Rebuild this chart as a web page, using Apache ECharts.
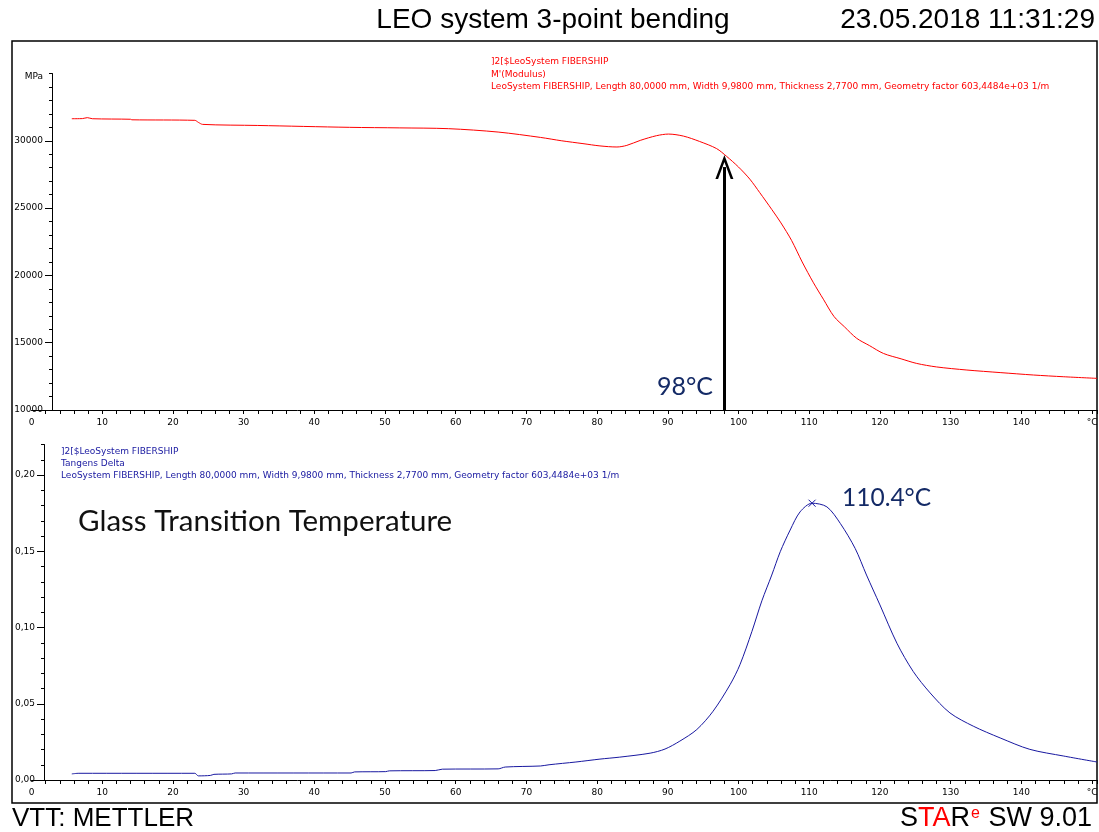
<!DOCTYPE html>
<html>
<head>
<meta charset="utf-8">
<script src="https://cdn.jsdelivr.net/npm/echarts@6/dist/echarts.min.js"></script>
<style>
  html, body { margin: 0; padding: 0; background: #fff; }
  #main { width: 1099px; height: 832px; }
</style>
</head>
<body>
<div id="main"></div>
<script>
// values
var modTemps = [5.7, 7.2, 7.9, 8.6, 14.0, 14.2, 23.1, 23.6, 24.2, 32, 45, 52, 59, 66, 72, 75, 78, 80.4, 82.8, 84.2, 86.1, 88.4, 90.1, 92.2, 94.5, 96.9, 98.3, 100, 101.6, 103, 104.7, 106, 107.5, 109, 110.6, 112, 113.5, 115, 116.7, 118.5, 120.5, 123, 125.2, 128, 132.3, 137, 141.7, 146, 150.7];
var modulus = [31640, 31650, 31720, 31640, 31600, 31560, 31520, 31370, 31220, 31140, 31000, 30960, 30900, 30650, 30250, 30000, 29790, 29620, 29540, 29660, 30030, 30380, 30500, 30350, 29950, 29420, 28850, 28050, 27150, 26150, 24900, 23900, 22600, 21000, 19450, 18230, 16950, 16170, 15330, 14790, 14200, 13800, 13460, 13200, 12970, 12780, 12600, 12470, 12350];

var tanTemps = [5.7, 6.7, 23.1, 23.6, 25.3, 25.8, 28.3, 28.8, 45.2, 45.7, 50.1, 50.6, 57.1, 58.1, 66, 67, 72, 73.2, 77, 80.4, 83.2, 87.5, 89.6, 91.7, 94.1, 96.4, 98.8, 100.2, 101.9, 103.3, 104.7, 105.9, 107.3, 108.7, 110.4, 112.5, 114.4, 116.5, 118.1, 120, 122.4, 124.7, 127.1, 129.9, 133.2, 137, 141.2, 146, 150.7];
var tanDelta = [0.0040, 0.0044, 0.0044, 0.0027, 0.0030, 0.0037, 0.0040, 0.0046, 0.0046, 0.0053, 0.0055, 0.0060, 0.0062, 0.0071, 0.0073, 0.0085, 0.0092, 0.0100, 0.0118, 0.0137, 0.0150, 0.0176, 0.0203, 0.0255, 0.0331, 0.0451, 0.0625, 0.0756, 0.0975, 0.1175, 0.1344, 0.1497, 0.1639, 0.1758, 0.1815, 0.1791, 0.1682, 0.1518, 0.1344, 0.1148, 0.0897, 0.0712, 0.0571, 0.0440, 0.0353, 0.0276, 0.0201, 0.0157, 0.0118];

var xLabelValues = [0, 10, 20, 30, 40, 50, 60, 70, 80, 90, 100, 110, 120, 130, 140, 150];
var modLabelValues = [10000, 15000, 20000, 25000, 30000];
var tanLabelValues = [0, 0.05, 0.10, 0.15, 0.20];

var onsetTemp = 98;        // arrow in the modulus plot
var onsetModulus = 28050;
var peakTemp = 110.4;      // tan delta peak
var peakTan = 0.1815;

var X_MAX = 150.7;

function steps(from, to, step) {
  var out = [];
  for (var v = from; v <= to + step / 1000; v += step) out.push(Math.round(v * 1000) / 1000);
  return out;
}

function pairs(xs, ys) {
  return xs.map(function (x, i) { return [x, ys[i]]; });
}

var tickFont = { fontFamily: 'DejaVu Sans', fontSize: 9, color: '#000' };
var smallFont = '9px "DejaVu Sans"';
var chevron = 'path://M0,24 L10,0 L20,24 L17,24 L10,7 L3,24 Z';

function xAxisFor(gridIndex) {
  return {
    type: 'value', gridIndex: gridIndex, min: 0, max: X_MAX, position: 'bottom',
    axisLine: { onZero: false, lineStyle: { color: '#000', width: 1 } },
    axisTick: { customValues: steps(2, 150, 2).concat([X_MAX]), length: 4, lineStyle: { color: '#000' } },
    axisLabel: Object.assign({
      customValues: xLabelValues, margin: 8,
      formatter: function (v) { return v === 150 ? '°C' : String(v); }
    }, tickFont),
    splitLine: { show: false }
  };
}

var chart = echarts.init(document.getElementById('main'));

var option = {
  backgroundColor: '#fff',
  animation: false,
  grid: [
    { left: 31.5, top: 73.5, width: 1065.5, height: 336.5, containLabel: false, outerBoundsMode: 'none' },
    { left: 31.5, top: 444.5, width: 1065.5, height: 335.5, containLabel: false, outerBoundsMode: 'none' }
  ],
  xAxis: [xAxisFor(0), xAxisFor(1)],
  yAxis: [
    { // modulus, major ticks + labels
      type: 'value', gridIndex: 0, position: 'left', min: 10000, max: 35000, offset: -20.5,
      name: 'MPa', nameLocation: 'end', nameGap: -8,
      nameTextStyle: { fontFamily: 'DejaVu Sans', fontSize: 9, color: '#000', align: 'right', padding: [0, 9, 0, 0] },
      axisLine: { show: true, onZero: false, lineStyle: { color: '#000' } },
      axisTick: { customValues: modLabelValues, length: 7, lineStyle: { color: '#000' } },
      axisLabel: Object.assign({ customValues: modLabelValues, margin: 9,
        formatter: function (v) { return String(v); } }, tickFont),
      splitLine: { show: false }
    },
    { // modulus, minor ticks
      type: 'value', gridIndex: 0, position: 'left', min: 10000, max: 35000, offset: -20.5,
      axisLine: { show: false, onZero: false },
      axisTick: { customValues: steps(11000, 35000, 1000), length: 3, lineStyle: { color: '#000' } },
      axisLabel: { show: false },
      splitLine: { show: false }
    },
    { // tan delta, major ticks + labels
      type: 'value', gridIndex: 1, position: 'left', min: 0, max: 0.22, offset: -12.5,
      axisLine: { show: true, onZero: false, lineStyle: { color: '#000' } },
      axisTick: { customValues: tanLabelValues, length: 7, lineStyle: { color: '#000' } },
      axisLabel: Object.assign({
        customValues: tanLabelValues, margin: 9,
        formatter: function (v) { return v.toFixed(2).replace('.', ','); }
      }, tickFont),
      splitLine: { show: false }
    },
    { // tan delta, minor ticks
      type: 'value', gridIndex: 1, position: 'left', min: 0, max: 0.22, offset: -12.5,
      axisLine: { show: false, onZero: false },
      axisTick: { customValues: steps(0.01, 0.22, 0.01), length: 3, lineStyle: { color: '#000' } },
      axisLabel: { show: false },
      splitLine: { show: false }
    }
  ],
  series: [
    {
      name: "M'(Modulus)", type: 'line', xAxisIndex: 0, yAxisIndex: 0,
      data: pairs(modTemps, modulus),
      showSymbol: false, smooth: 0.3,
      lineStyle: { color: '#ff0000', width: 1 },
      markLine: {
        silent: true, animation: false,
        symbol: ['none', chevron], symbolSize: [18, 24],
        lineStyle: { color: '#000', width: 3, type: 'solid' },
        label: { show: false },
        data: [[{ coord: [onsetTemp, 10000] }, { coord: [onsetTemp, onsetModulus] }]]
      }
    },
    {
      name: 'Tangens Delta', type: 'line', xAxisIndex: 1, yAxisIndex: 2,
      data: pairs(tanTemps, tanDelta),
      showSymbol: false, smooth: 0.3,
      lineStyle: { color: '#1818a0', width: 1 },
      markPoint: {
        silent: true, animation: false,
        symbol: 'path://M0,0 L10,10 M10,0 L0,10', symbolSize: 7,
        itemStyle: { color: 'none', borderColor: '#1818a0', borderWidth: 1 },
        label: { show: false },
        data: [{ coord: [peakTemp, peakTan] }]
      }
    }
  ],
  graphic: [
    { type: 'rect', shape: { x: 12, y: 41, width: 1085, height: 762 },
      style: { fill: 'none', stroke: '#000', lineWidth: 1.5 }, silent: true },
    { type: 'text', x: 553, y: 20,
      style: { text: 'LEO system 3-point bending', font: '28px "Liberation Sans"', fill: '#000',
               textAlign: 'center', align: 'center', textVerticalAlign: 'middle', verticalAlign: 'middle' } },
    { type: 'text', x: 1095, y: 20,
      style: { text: '23.05.2018 11:31:29', font: '28px "Liberation Sans"', fill: '#000',
               textAlign: 'right', align: 'right', textVerticalAlign: 'middle', verticalAlign: 'middle' } },
    { type: 'text', x: 12, y: 819,
      style: { text: 'VTT: METTLER', font: '26px "Liberation Sans"', fill: '#000',
               textAlign: 'left', align: 'left', textVerticalAlign: 'middle', verticalAlign: 'middle' } },
    { type: 'text', x: 1092, y: 819,
      style: {
        text: '{k|S}{r|TA}{k|R}{s|e}{k| SW 9.01}', textAlign: 'right', align: 'right',
        textVerticalAlign: 'middle', verticalAlign: 'middle',
        rich: {
          k: { font: '27px "Liberation Sans"', fill: '#000', color: '#000' },
          r: { font: '27px "Liberation Sans"', fill: '#ff0000', color: '#ff0000' },
          s: { font: '16px "Liberation Sans"', fill: '#ff0000', color: '#ff0000', verticalAlign: 'top', padding: [0, 1, 10, 1] }
        }
      } },
    // modulus legend
    { type: 'text', x: 491, y: 62, style: { text: ']2[$LeoSystem FIBERSHIP', font: smallFont, fill: '#ff0000', textVerticalAlign: 'middle', verticalAlign: 'middle' } },
    { type: 'text', x: 491, y: 75, style: { text: "M'(Modulus)", font: smallFont, fill: '#ff0000', textVerticalAlign: 'middle', verticalAlign: 'middle' } },
    { type: 'text', x: 491, y: 87, style: { text: 'LeoSystem FIBERSHIP, Length 80,0000 mm, Width 9,9800 mm, Thickness 2,7700 mm, Geometry factor 603,4484e+03 1/m', font: smallFont, fill: '#ff0000', textVerticalAlign: 'middle', verticalAlign: 'middle' } },
    // tan delta legend
    { type: 'text', x: 61, y: 452, style: { text: ']2[$LeoSystem FIBERSHIP', font: smallFont, fill: '#1818a0', textVerticalAlign: 'middle', verticalAlign: 'middle' } },
    { type: 'text', x: 61, y: 464, style: { text: 'Tangens Delta', font: smallFont, fill: '#1818a0', textVerticalAlign: 'middle', verticalAlign: 'middle' } },
    { type: 'text', x: 61, y: 476, style: { text: 'LeoSystem FIBERSHIP, Length 80,0000 mm, Width 9,9800 mm, Thickness 2,7700 mm, Geometry factor 603,4484e+03 1/m', font: smallFont, fill: '#1818a0', textVerticalAlign: 'middle', verticalAlign: 'middle' } },
    // annotations
    { type: 'text', x: 78, y: 521, style: { text: 'Glass Transition Temperature', font: '29.5px Lato', fill: '#111', textVerticalAlign: 'middle', verticalAlign: 'middle' } },
    { type: 'text', x: 657, y: 387, style: { text: '98°C', font: '25px Lato', fill: '#142a66', textVerticalAlign: 'middle', verticalAlign: 'middle' } },
    { type: 'text', x: 842, y: 498, style: { text: '110.4°C', font: '24.5px Lato', fill: '#142a66', textVerticalAlign: 'middle', verticalAlign: 'middle' } }
  ]
};

chart.setOption(option);
</script>
</body>
</html>
